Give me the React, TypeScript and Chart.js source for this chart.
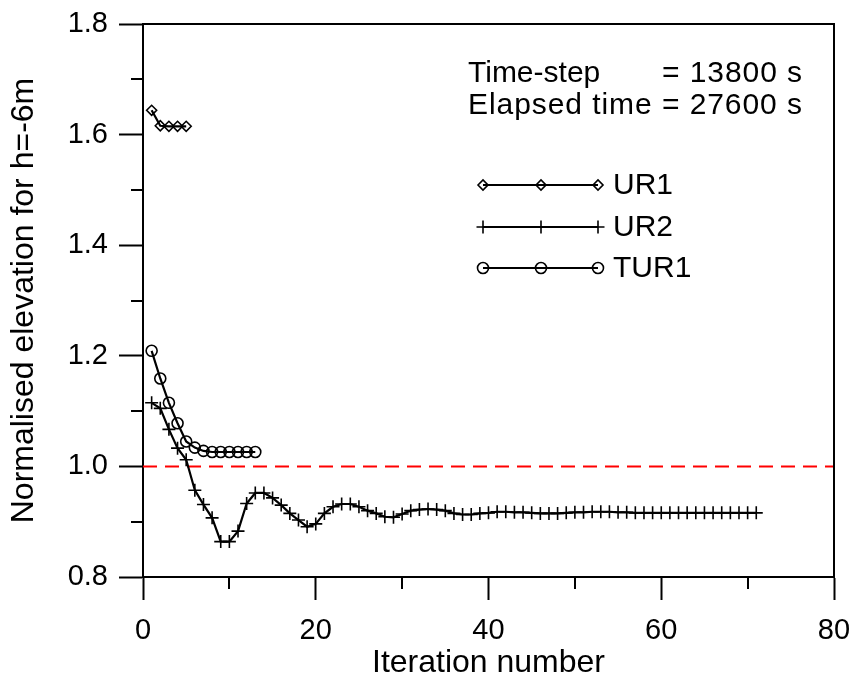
import React, { useEffect, useRef } from 'react';
import { Chart, registerables } from 'chart.js';

Chart.register(...registerables);

// ---- data ----
const ur1Iterations = [1, 2, 3, 4, 5];
const ur1Values = [1.644, 1.616, 1.615, 1.615, 1.615];

const tur1Iterations = [1, 2, 3, 4, 5, 6, 7, 8, 9, 10, 11, 12, 13];
const tur1Values = [1.209, 1.159, 1.115, 1.078, 1.045, 1.034, 1.028, 1.026, 1.026, 1.026, 1.026, 1.026, 1.026];

const ur2Iterations = [
  1, 2, 3, 4, 5, 6, 7, 8, 9, 10, 11, 12, 13, 14, 15, 16, 17, 18, 19, 20,
  21, 22, 23, 24, 25, 26, 27, 28, 29, 30, 31, 32, 33, 34, 35, 36, 37, 38, 39, 40,
  41, 42, 43, 44, 45, 46, 47, 48, 49, 50, 51, 52, 53, 54, 55, 56, 57, 58, 59, 60,
  61, 62, 63, 64, 65, 66, 67, 68, 69, 70, 71,
];
const ur2Values = [
  1.115, 1.105, 1.067, 1.033, 1.012, 0.957, 0.931, 0.907, 0.864, 0.864,
  0.883, 0.933, 0.952, 0.952, 0.943, 0.930, 0.915, 0.903, 0.891, 0.896,
  0.915, 0.927, 0.932, 0.932, 0.927, 0.920, 0.915, 0.909, 0.908, 0.914,
  0.920, 0.922, 0.923, 0.922, 0.920, 0.915, 0.913, 0.913, 0.915, 0.916,
  0.918, 0.918, 0.917, 0.917, 0.916, 0.915, 0.915, 0.915, 0.916, 0.917,
  0.917, 0.918, 0.918, 0.918, 0.917, 0.917, 0.916, 0.916, 0.916, 0.916,
  0.916, 0.916, 0.916, 0.916, 0.916, 0.916, 0.916, 0.916, 0.916, 0.916,
  0.916,
];

const referenceX = [0, 80];
const referenceY = [1.0, 1.0];

const xMinorTicks = [10, 30, 50, 70];
const yMinorTicks = [0.9, 1.1, 1.3, 1.5, 1.7];

const seriesLabels = ['UR1', 'UR2', 'TUR1'];
const seriesMarkers = ['rectRot', 'cross', 'circle'];
const seriesMarkerSizes = [5, 6.5, 5.5];

const annotationLeft = ['Time-step', 'Elapsed time'];
const annotationRight = ['= 13800 s', '= 27600 s'];

const FONT = "'Liberation Sans', Arial, Helvetica, sans-serif";

function toPoints(xs: number[], ys: number[]) {
  return xs.map((x, i) => ({ x, y: ys[i] }));
}

function drawMarker(ctx: CanvasRenderingContext2D, style: string, x: number, y: number, r: number) {
  ctx.beginPath();
  if (style === 'circle') {
    ctx.arc(x, y, r, 0, Math.PI * 2);
  } else if (style === 'rectRot') {
    ctx.moveTo(x - r, y);
    ctx.lineTo(x, y - r);
    ctx.lineTo(x + r, y);
    ctx.lineTo(x, y + r);
    ctx.closePath();
  } else {
    ctx.moveTo(x - r, y);
    ctx.lineTo(x + r, y);
    ctx.moveTo(x, y - r);
    ctx.lineTo(x, y + r);
  }
  ctx.stroke();
}

function fillSpaced(ctx: any, text: string, x: number, y: number, targetWidth: number) {
  ctx.letterSpacing = '0px';
  const w = ctx.measureText(text).width;
  const n = Math.max(text.length - 1, 1);
  const sp = (targetWidth - w) / n;
  ctx.letterSpacing = `${sp}px`;
  ctx.fillText(text, x, y);
  ctx.letterSpacing = '0px';
}

const decorPlugin = {
  id: 'decor',
  afterDraw(chart: any) {
    const { ctx, chartArea: a, scales } = chart;
    const xs = scales.x;
    const ys = scales.y;
    ctx.save();
    ctx.strokeStyle = '#000';
    ctx.lineWidth = 2;
    // top and right frame
    ctx.beginPath();
    ctx.moveTo(a.left - 1, a.top);
    ctx.lineTo(a.right, a.top);
    ctx.lineTo(a.right, a.bottom + 1);
    ctx.stroke();
    // minor ticks
    ctx.beginPath();
    for (const v of xMinorTicks) {
      const px = Math.round(xs.getPixelForValue(v));
      ctx.moveTo(px, a.bottom);
      ctx.lineTo(px, a.bottom + 12);
    }
    for (const v of yMinorTicks) {
      const py = Math.round(ys.getPixelForValue(v));
      ctx.moveTo(a.left, py);
      ctx.lineTo(a.left - 12, py);
    }
    ctx.stroke();

    // legend
    const rows = [185, 227, 268];
    const lx = [483, 541, 598];
    ctx.font = `30px ${FONT}`;
    ctx.fillStyle = '#000';
    ctx.textBaseline = 'middle';
    ctx.textAlign = 'left';
    seriesLabels.forEach((label, i) => {
      const y = rows[i];
      ctx.lineWidth = 2;
      ctx.beginPath();
      ctx.moveTo(lx[0], y);
      ctx.lineTo(lx[2], y);
      ctx.stroke();
      ctx.lineWidth = 1.6;
      for (const x of lx) drawMarker(ctx, seriesMarkers[i], x, y, seriesMarkerSizes[i]);
      ctx.fillText(label, 613, y + 1);
    });

    // annotation
    ctx.textBaseline = 'alphabetic';
    ctx.font = `30px ${FONT}`;
    ctx.fillText(annotationLeft[0], 468, 82);
    fillSpaced(ctx, annotationRight[0], 662, 82, 140);
    fillSpaced(ctx, `${annotationLeft[1]} ${annotationRight[1]}`, 468, 114, 334);
    ctx.restore();
  },
};

export default function App() {
  const canvasRef = useRef<HTMLCanvasElement | null>(null);

  useEffect(() => {
    document.body.style.margin = '0';
    const canvas = canvasRef.current;
    if (!canvas) return;
    Chart.defaults.color = '#000';
    Chart.defaults.font.family = FONT;

    const common = {
      borderColor: '#000',
      borderWidth: 2.2,
      pointBorderColor: '#000',
      pointBackgroundColor: 'rgba(0,0,0,0)',
      pointBorderWidth: 1.6,
      fill: false,
      tension: 0,
    };

    const chart = new Chart(canvas, {
      type: 'line',
      data: {
        datasets: [
          {
            ...common,
            label: seriesLabels[0],
            data: toPoints(ur1Iterations, ur1Values),
            pointStyle: seriesMarkers[0],
            pointRadius: seriesMarkerSizes[0],
          },
          {
            ...common,
            label: seriesLabels[1],
            data: toPoints(ur2Iterations, ur2Values),
            pointStyle: seriesMarkers[1],
            pointRadius: seriesMarkerSizes[1],
          },
          {
            ...common,
            label: seriesLabels[2],
            data: toPoints(tur1Iterations, tur1Values),
            pointStyle: seriesMarkers[2],
            pointRadius: seriesMarkerSizes[2],
          },
          {
            label: 'Reference',
            data: toPoints(referenceX, referenceY),
            borderColor: '#ff0000',
            borderWidth: 2,
            borderDash: [14, 8],
            pointRadius: 0,
            fill: false,
          },
        ],
      } as any,
      options: {
        responsive: false,
        animation: false,
        events: [],
        layout: { padding: { top: 24, right: 22, left: 0, bottom: 0 } },
        plugins: {
          legend: { display: false },
          tooltip: { enabled: false },
          title: { display: false },
        },
        scales: {
          x: {
            type: 'linear',
            min: 0,
            max: 80,
            afterFit: (s: any) => {
              s.height = 105;
              s.paddingLeft = 0;
              s.paddingRight = 0;
            },
            ticks: { stepSize: 20, padding: 14, font: { size: 29 }, color: '#000', maxRotation: 0 },
            grid: {
              display: true,
              drawOnChartArea: false,
              drawTicks: true,
              tickLength: 23,
              tickWidth: 2,
              tickColor: '#000',
              color: '#000',
            },
            border: { display: true, color: '#000', width: 2 },
            title: {
              display: true,
              text: 'Iteration number',
              font: { size: 32 },
              color: '#000',
              padding: { top: 0, bottom: 0 },
            },
          },
          y: {
            type: 'linear',
            min: 0.8,
            max: 1.8,
            afterFit: (s: any) => {
              s.width = 143;
              s.paddingTop = 0;
              s.paddingBottom = 0;
            },
            ticks: {
              stepSize: 0.2,
              padding: 11,
              font: { size: 29 },
              color: '#000',
              callback: (v: any) => Number(v).toFixed(1),
            },
            grid: {
              display: true,
              drawOnChartArea: false,
              drawTicks: true,
              tickLength: 24,
              tickWidth: 2,
              tickColor: '#000',
              color: '#000',
            },
            border: { display: true, color: '#000', width: 2 },
            title: {
              display: true,
              text: 'Normalised elevation for h=-6m',
              font: { size: 32 },
              color: '#000',
              padding: { top: 5, bottom: 0 },
            },
          },
        },
      } as any,
      plugins: [decorPlugin],
    });

    return () => chart.destroy();
  }, []);

  return <canvas ref={canvasRef} width={856} height={682} style={{ display: 'block' }} />;
}
